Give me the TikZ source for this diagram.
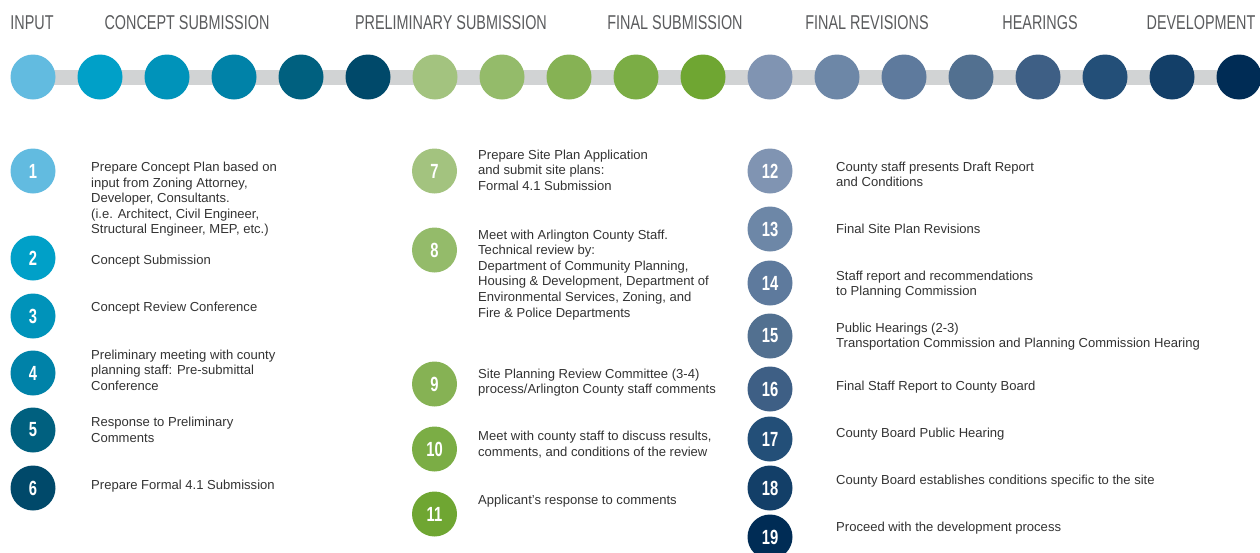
\documentclass[tikz,border=0pt]{standalone}
\usepackage{fontspec}
\setmainfont{Liberation Sans}
\newfontfamily\condfont[FakeStretch=0.72]{Liberation Sans}
\newfontfamily\numfont[FakeStretch=0.72]{Liberation Sans Bold}
\usetikzlibrary{backgrounds}
\definecolor{c1}{HTML}{62BBE0}
\definecolor{c2}{HTML}{00A0C8}
\definecolor{c3}{HTML}{0093BA}
\definecolor{c4}{HTML}{0082A8}
\definecolor{c5}{HTML}{00607F}
\definecolor{c6}{HTML}{00496A}
\definecolor{c7}{HTML}{A3C37F}
\definecolor{c8}{HTML}{94BB6A}
\definecolor{c9}{HTML}{86B254}
\definecolor{c10}{HTML}{7BAD45}
\definecolor{c11}{HTML}{6FA632}
\definecolor{c12}{HTML}{8094B2}
\definecolor{c13}{HTML}{6D87A7}
\definecolor{c14}{HTML}{5E7A9D}
\definecolor{c15}{HTML}{527090}
\definecolor{c16}{HTML}{3E5F85}
\definecolor{c17}{HTML}{234F78}
\definecolor{c18}{HTML}{133F68}
\definecolor{c19}{HTML}{002C55}
\definecolor{barcol}{HTML}{D1D3D4}
\definecolor{headcol}{HTML}{5A5B5D}
\definecolor{bodycol}{HTML}{333333}
\newcommand{\lines}[1]{\begin{tabular}[t]{@{}l@{}}#1\end{tabular}}
\begin{document}
\begin{tikzpicture}[x=1pt,y=-1pt,
  dot/.style={circle,inner sep=0pt,minimum size=45pt},
  numdot/.style={circle,inner sep=0pt,minimum size=45pt,text=white,font=\numfont\fontsize{20.5}{20.5}\selectfont},
  head/.style={anchor=base,inner sep=0pt,text=headcol,font=\condfont\fontsize{20}{20}\selectfont},
  desc/.style={anchor=base west,inner sep=0pt,text=bodycol,font=\fontsize{13.05}{15.6}\selectfont},
  bar/.style={draw=barcol,line width=15pt}]
\useasboundingbox (0,0) rectangle (1260,552);
% timeline
\foreach \i in {1,...,19}{
  \node[dot,fill=c\i] (t\i) at ({33+(\i-1)*67},77) {};
}
\begin{scope}[on background layer]
  \draw[bar] (t1.center) -- (t19.center);
\end{scope}
% headers
\node[head] (hinput) at (32,29.3) {INPUT};
\node[head] (hconcept) at (187,29.3) {CONCEPT SUBMISSION};
\node[head] (hprelim) at (451,29.3) {PRELIMINARY SUBMISSION};
\node[head] (hfinal) at (675,29.3) {FINAL SUBMISSION};
\node[head] (hrev) at (867,29.3) {FINAL REVISIONS};
\node[head] (hhear) at (1040,29.3) {HEARINGS};
\node[head] (hdev) at (1201,29.3) {DEVELOPMENT};
% column 1
\node[numdot,fill=c1] (s1) at (33,171) {1};
\node[desc] (d1) at (91,171.5) {\lines{Prepare Concept Plan based on\\input from Zoning Attorney,\\Developer, Consultants.\\(i.e. Architect, Civil Engineer,\\Structural Engineer, MEP, etc.)}};
\node[numdot,fill=c2] (s2) at (33,258) {2};
\node[desc] (d2) at (91,264.5) {\lines{Concept Submission}};
\node[numdot,fill=c3] (s3) at (33,316) {3};
\node[desc] (d3) at (91,311.7) {\lines{Concept Review Conference}};
\node[numdot,fill=c4] (s4) at (33,373) {4};
\node[desc] (d4) at (91,359.3) {\lines{Preliminary meeting with county\\planning staff: Pre-submittal\\Conference}};
\node[numdot,fill=c5] (s5) at (33,430) {5};
\node[desc] (d5) at (91,426.8) {\lines{Response to Preliminary\\Comments}};
\node[numdot,fill=c6] (s6) at (33,488) {6};
\node[desc] (d6) at (91,489.3) {\lines{Prepare Formal 4.1 Submission}};
% column 2
\node[numdot,fill=c7] (s7) at (434.5,171) {7};
\node[desc] (d7) at (478,159.3) {\lines{Prepare Site Plan Application\\and submit site plans:\\Formal 4.1 Submission}};
\node[numdot,fill=c8] (s8) at (434.5,250) {8};
\node[desc] (d8) at (478,239) {\lines{Meet with Arlington County Staff.\\Technical review by:\\Department of Community Planning,\\Housing \& Development, Department of\\Environmental Services, Zoning, and\\Fire \& Police Departments}};
\node[numdot,fill=c9] (s9) at (434.5,384) {9};
\node[desc] (d9) at (478,378.3) {\lines{Site Planning Review Committee (3-4)\\process/Arlington County staff comments}};
\node[numdot,fill=c10] (s10) at (434.5,449) {10};
\node[desc] (d10) at (478,440.7) {\lines{Meet with county staff to discuss results,\\comments, and conditions of the review}};
\node[numdot,fill=c11] (s11) at (434.5,514) {11};
\node[desc] (d11) at (478,504) {\lines{Applicant’s response to comments}};
% column 3
\node[numdot,fill=c12] (s12) at (770,171) {12};
\node[desc] (d12) at (836,171) {\lines{County staff presents Draft Report\\and Conditions}};
\node[numdot,fill=c13] (s13) at (770,229) {13};
\node[desc] (d13) at (836,233.3) {\lines{Final Site Plan Revisions}};
\node[numdot,fill=c14] (s14) at (770,283) {14};
\node[desc] (d14) at (836,280) {\lines{Staff report and recommendations\\to Planning Commission}};
\node[numdot,fill=c15] (s15) at (770,336) {15};
\node[desc] (d15) at (836,332) {\lines{Public Hearings (2-3)\\Transportation Commission and Planning Commission Hearing}};
\node[numdot,fill=c16] (s16) at (770,389) {16};
\node[desc] (d16) at (836,390.7) {\lines{Final Staff Report to County Board}};
\node[numdot,fill=c17] (s17) at (770,439) {17};
\node[desc] (d17) at (836,437.3) {\lines{County Board Public Hearing}};
\node[numdot,fill=c18] (s18) at (770,488) {18};
\node[desc] (d18) at (836,484) {\lines{County Board establishes conditions specific to the site}};
\node[numdot,fill=c19] (s19) at (770,537) {19};
\node[desc] (d19) at (836,531.7) {\lines{Proceed with the development process}};
\end{tikzpicture}
\end{document}
